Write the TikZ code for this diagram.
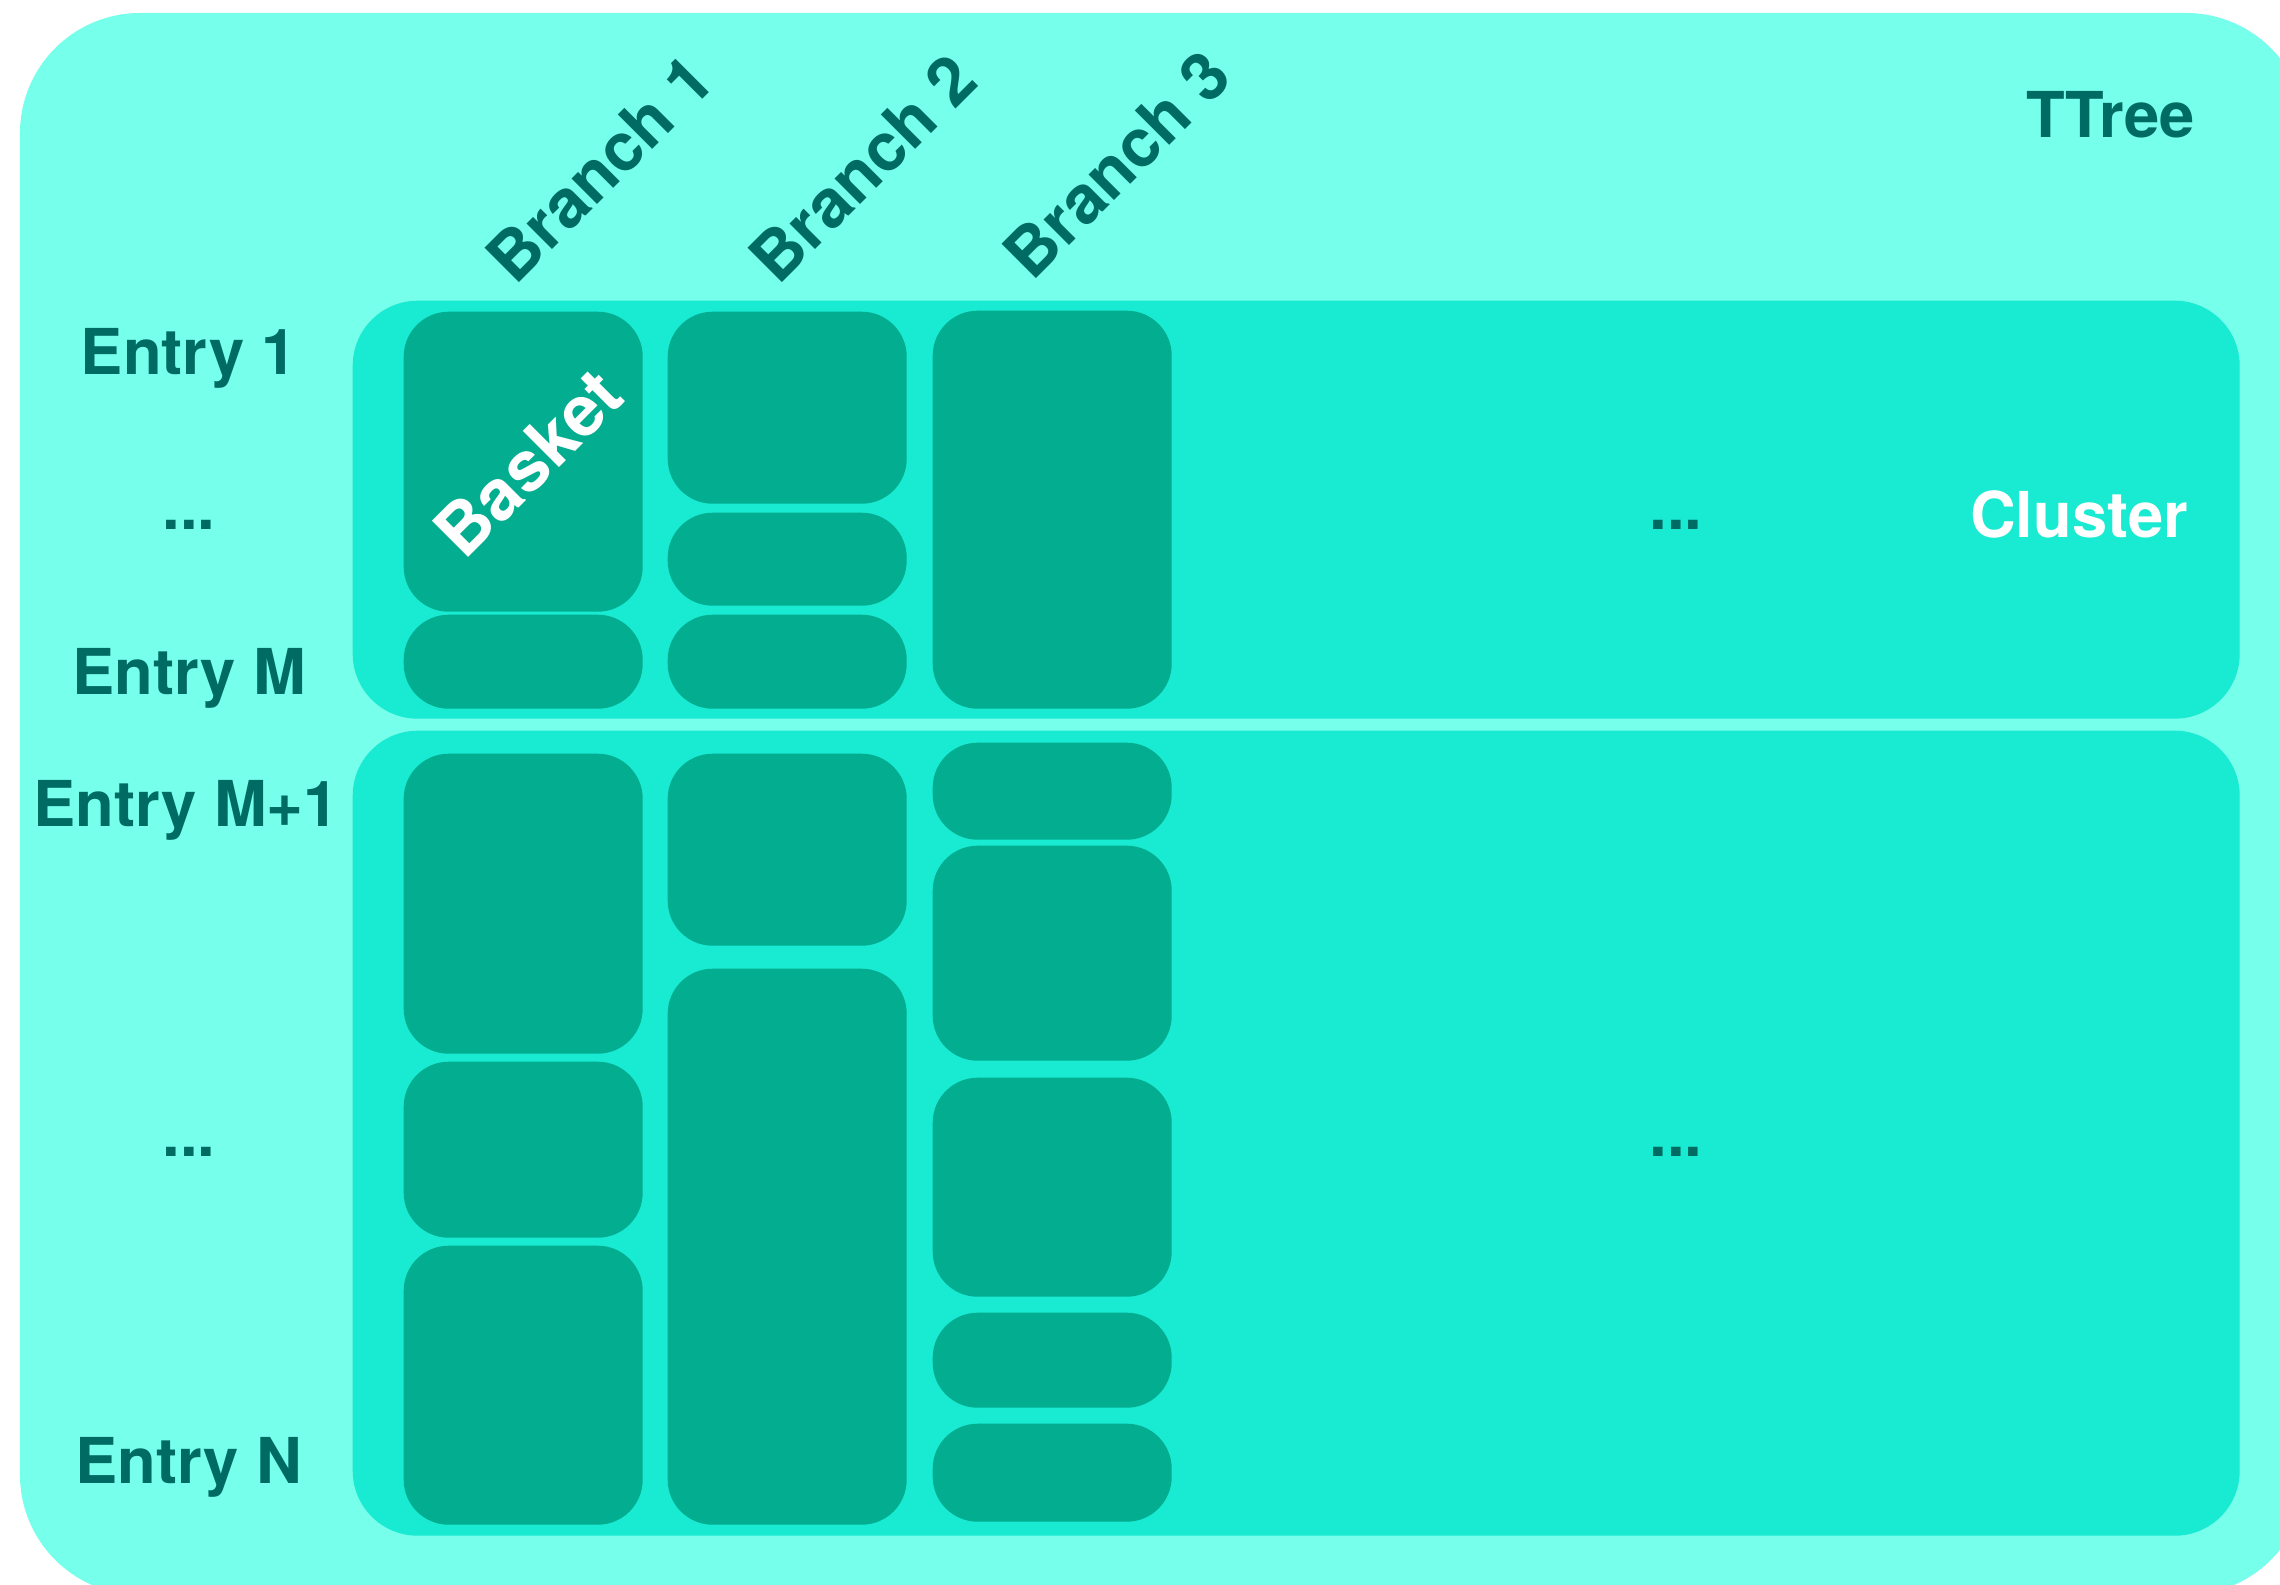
\documentclass[tikz,border=0pt]{standalone}
\usepackage{fontspec}
\setmainfont{TeX Gyre Heros}
\usetikzlibrary{positioning}
\definecolor{treecolor}{HTML}{76FFEA}
\definecolor{clustercolor}{HTML}{19EAD2}
\definecolor{basketcolor}{HTML}{02AD90}
\definecolor{labelcolor}{HTML}{006B63}

\begin{document}
\begin{tikzpicture}[
    tree/.style={fill=treecolor, rounded corners=1.2cm},
    cluster/.style={fill=clustercolor, rounded corners=0.65cm, minimum width=18.87cm, anchor=north west, inner sep=0pt},
    basket/.style={fill=basketcolor, rounded corners=0.45cm, minimum width=2.39cm, anchor=north west, inner sep=0pt},
    lbl/.style={font=\bfseries\fontsize{18}{20}\selectfont, text=labelcolor, inner sep=0pt},
    branch/.style={lbl, font=\bfseries\fontsize{19}{21}\selectfont, rotate=45}
]
    \clip (0,0) rectangle (22.8,-15.85);
    % --- TTree ---
    \fill[tree] (0.20,-0.13) rectangle (23.06,-15.95);
    \node[lbl] (ttree) at (21.11,-1.15) {TTree};

    % --- clusters ---
    \node[cluster, minimum height=4.18cm] (c1) at (3.52,-3.00) {};
    \node[cluster, minimum height=8.05cm] (c2) at (3.52,-7.30) {};
    \node[lbl, text=white] (clabel) at (20.79,-5.14) {Cluster};

    % --- baskets, first cluster ---
    \node[basket, minimum height=3.00cm] (b11) at (4.03,-3.11) {};
    \node[basket, minimum height=0.94cm] (b12) at (4.03,-6.14) {};
    \node[basket, minimum height=1.92cm] (b21) at (6.67,-3.11) {};
    \node[basket, minimum height=0.93cm] (b22) at (6.67,-5.12) {};
    \node[basket, minimum height=0.94cm] (b23) at (6.67,-6.14) {};
    \node[basket, minimum height=3.98cm] (b31) at (9.32,-3.10) {};
    \node[lbl, text=white, font=\bfseries\fontsize{20}{22}\selectfont, rotate=45] (blabel) at (5.28,-4.63) {Basket};

    % --- baskets, second cluster ---
    \node[basket, minimum height=3.00cm] (d11) at (4.03,-7.53) {};
    \node[basket, minimum height=1.76cm] (d12) at (4.03,-10.61) {};
    \node[basket, minimum height=2.79cm] (d13) at (4.03,-12.45) {};
    \node[basket, minimum height=1.92cm] (d21) at (6.67,-7.53) {};
    \node[basket, minimum height=5.56cm] (d22) at (6.67,-9.68) {};
    \node[basket, minimum height=0.97cm] (d31) at (9.32,-7.42) {};
    \node[basket, minimum height=2.15cm] (d32) at (9.32,-8.45) {};
    \node[basket, minimum height=2.19cm] (d33) at (9.32,-10.77) {};
    \node[basket, minimum height=0.95cm] (d34) at (9.32,-13.12) {};
    \node[basket, minimum height=0.98cm] (d35) at (9.32,-14.23) {};

    % --- branch labels ---
    \node[branch] (br1) at (6.00,-1.68) {Branch 1};
    \node[branch] (br2) at (8.63,-1.68) {Branch 2};
    \node[branch] (br3) at (11.17,-1.64) {Branch 3};

    % --- entry labels ---
    \node[lbl] (e1) at (1.89,-3.58) {Entry 1};
    \node[lbl] (edots1) at (1.89,-5.25) {...};
    \node[lbl] (em) at (1.89,-6.78) {Entry M};
    \node[lbl] (em1) at (1.86,-8.10) {Entry M+1};
    \node[lbl] (edots2) at (1.89,-11.52) {...};
    \node[lbl] (en) at (1.89,-14.67) {Entry N};

    % --- more branches ---
    \node[lbl] (cdots1) at (16.76,-5.25) {...};
    \node[lbl] (cdots2) at (16.76,-11.52) {...};
\end{tikzpicture}
\end{document}
